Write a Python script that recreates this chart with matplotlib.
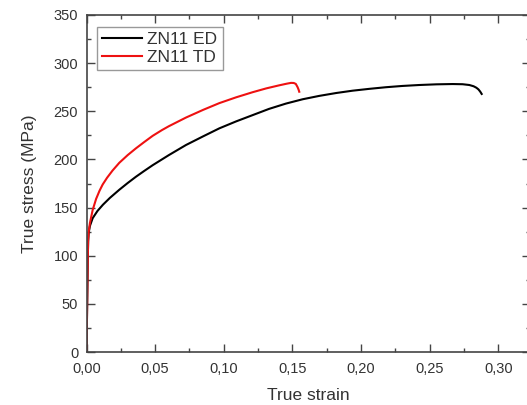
import matplotlib.pyplot as plt
from matplotlib.ticker import MultipleLocator, FuncFormatter

# curvas tensao x deformacao verdadeira (ZN11)
ed_strain = [0, 0.0003, 0.0006, 0.0009, 0.0012, 0.0016, 0.0025, 0.0045,
             0.0080, 0.0120, 0.0170, 0.0239, 0.0300, 0.0360, 0.0420,
             0.0482, 0.0600, 0.0725, 0.0850, 0.0968, 0.1090, 0.1210,
             0.1330, 0.1453, 0.1575, 0.1696, 0.1820, 0.1939, 0.2060,
             0.2182, 0.2300, 0.2425, 0.2550, 0.2668, 0.2740, 0.2789,
             0.2820, 0.2840, 0.2855, 0.2868, 0.2879]
ed_stress = [0, 30, 62, 95, 115, 124, 131, 139,
             146.5, 153, 160, 168.5, 175.5, 182, 188,
             194, 204.5, 215, 224, 232.3, 239.5, 246,
             252.5, 258, 262.5, 266, 269, 271.4, 273.3,
             275, 276.3, 277.3, 278, 278.3, 278.1, 277.3,
             276, 274.5, 272.8, 270.5, 268]

td_strain = [0, 0.0003, 0.0006, 0.0009, 0.0012, 0.0016, 0.0025, 0.0045,
             0.0070, 0.0095, 0.0118, 0.0150, 0.0190, 0.0239, 0.0300,
             0.0360, 0.0420, 0.0482, 0.0550, 0.0600, 0.0725, 0.0850,
             0.0968, 0.1090, 0.1210, 0.1310, 0.1405, 0.1460, 0.1490,
             0.1510, 0.1525, 0.1538, 0.1545, 0.1550]
td_stress = [0, 30, 62, 95, 116, 125, 134, 147.5,
             159, 167.5, 174, 181, 188.5, 196.5, 204.5,
             211.5, 218, 224.5, 230.5, 234.5, 243.5, 251.5,
             258.5, 264.5, 269.8, 273.8, 277, 278.7, 279.5,
             279.4, 278.4, 275, 272.5, 270.3]

plt.rcParams["font.family"] = ["Liberation Sans", "DejaVu Sans"]
COR_TEXTO = "#333333"

fig = plt.figure(figsize=(5.27, 4.05), dpi=100)
ax = fig.add_axes([86.5 / 527, 53 / 405, (530 - 86.5) / 527, 337 / 405])

ax.plot(ed_strain, ed_stress, color="black", lw=1.5, label="ZN11 ED")
ax.plot(td_strain, td_stress, color="#ee1111", lw=1.5, label="ZN11 TD")

ax.set_xlim(0, 0.3231)
ax.set_ylim(0, 350)

ax.xaxis.set_major_locator(MultipleLocator(0.05))
ax.xaxis.set_minor_locator(MultipleLocator(0.025))
ax.yaxis.set_major_locator(MultipleLocator(50))
ax.yaxis.set_minor_locator(MultipleLocator(25))
ax.xaxis.set_major_formatter(
    FuncFormatter(lambda v, p: f"{v:.2f}".replace(".", ",")))

ax.tick_params(which="both", direction="in", top=True, right=True,
               color="#444444", width=1, labelsize=10.5,
               labelcolor=COR_TEXTO)
ax.tick_params(axis="y", pad=6)
ax.tick_params(axis="x", pad=7)
ax.tick_params(which="major", length=6)
ax.tick_params(which="minor", length=3)

for sp in ax.spines.values():
    sp.set_color("#444444")
    sp.set_linewidth(1.2)

ax.set_xlabel("True strain", fontsize=12.5, color=COR_TEXTO, labelpad=9)
ax.set_ylabel("True stress (MPa)", fontsize=12.5, color=COR_TEXTO,
              labelpad=12)

leg = ax.legend(loc="upper left", bbox_to_anchor=(0.0237, 0.9644),
                borderaxespad=0, fontsize=12.5, fancybox=False,
                handlelength=2.3, handletextpad=0.3, borderpad=0.3,
                labelspacing=0.15, framealpha=1)
leg.get_frame().set_edgecolor("#999999")
leg.get_frame().set_linewidth(1.0)
for t in leg.get_texts():
    t.set_color(COR_TEXTO)

fig.savefig("out.png", dpi=100)
